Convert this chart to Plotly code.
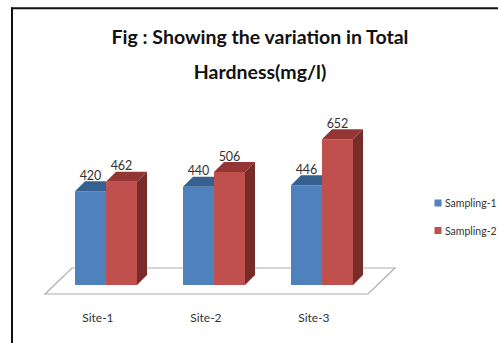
import plotly.graph_objects as go

sites = ["Site-1", "Site-2", "Site-3"]
sampling1 = [420, 440, 446]
sampling2 = [462, 506, 652]
title_lines = ["Fig : Showing the variation in Total", "Hardness(mg/l)"]

W, H = 498, 343
FONT = "Lato"
BLUE, BLUE_TOP = "#4f81bd", "#35608f"
RED, RED_TOP, RED_SIDE = "#c0504d", "#943634", "#772c2a"
PX_X = 108.0            # pixels per category
PX_Y = 0.2235           # pixels per value unit
X0 = 106.0              # pixel of first category centre
Y0 = 285.0              # pixel of value zero
AXIS_BOTTOM = 305.0
BW = 31 / PX_X          # bar width
DX, DY = 10 / PX_X, 10 / PX_Y  # depth of the 3D extrusion

fig = go.Figure()
xs = list(range(len(sites)))


def face(px, py, color):
    fig.add_trace(go.Scatter(x=px + px[:1], y=py + py[:1], mode="lines", fill="toself",
                             fillcolor=color, line=dict(width=0), hoverinfo="skip",
                             showlegend=False))


fig.add_trace(go.Bar(x=xs, y=sampling1, name="Sampling-1", marker_color=BLUE,
                     width=BW, offset=-BW, marker_line_width=0, showlegend=False))
fig.add_trace(go.Bar(x=xs, y=sampling2, name="Sampling-2", marker_color=RED,
                     width=BW, offset=0, marker_line_width=0, showlegend=False))

for i, (a, b) in enumerate(zip(sampling1, sampling2)):
    # blue top face, clipped where the red bar stands in front
    face([i - BW, i, i, i - BW + DX], [a, a, a + DY, a + DY], BLUE_TOP)
    # red top and side faces
    face([i, i + BW, i + BW + DX, i + DX], [b, b, b + DY, b + DY], RED_TOP)
    face([i + BW, i + BW + DX, i + BW + DX, i + BW], [0, DY, b + DY, b], RED_SIDE)

LABEL_LIFT = 14.5 / PX_Y
fig.add_trace(go.Scatter(
    x=[i - BW / 2 for i in xs] + [i + BW / 2 for i in xs],
    y=[v + LABEL_LIFT for v in sampling1 + sampling2],
    text=[str(v) for v in sampling1 + sampling2],
    mode="text", textposition="middle center",
    textfont=dict(family=FONT, size=12.5, color="#333333"),
    hoverinfo="skip", showlegend=False))


def px(x):
    return x / W


def py(y):
    # paper y spans the plot area only, which ends at AXIS_BOTTOM
    return 1 - y / AXIS_BOTTOM


shapes = [
    # floor of the chart
    dict(type="path", xref="paper", yref="paper", layer="below",
         path=f"M{px(45)},{py(294)} L{px(368)},{py(294)} L{px(395)},{py(268)} L{px(72)},{py(268)} Z",
         line=dict(color="#aeaeae", width=1.2), fillcolor="white"),
    # legend swatches
    dict(type="rect", xref="paper", yref="paper", x0=px(434.5), x1=px(441.5), y0=py(199.5), y1=py(206.5),
         fillcolor=BLUE, line=dict(width=0)),
    dict(type="rect", xref="paper", yref="paper", x0=px(434.5), x1=px(441.5), y0=py(227), y1=py(234),
         fillcolor=RED, line=dict(width=0)),
    # image frame
    dict(type="line", xref="paper", yref="paper", x0=px(12), x1=px(12), y0=py(H), y1=py(7.5),
         line=dict(color="#111111", width=2)),
    dict(type="line", xref="paper", yref="paper", x0=px(11), x1=1, y0=py(8.3), y1=py(8.3),
         line=dict(color="#111111", width=2)),
]

annotations = [
    dict(text=name, xref="paper", yref="paper", x=px(444), y=py(yy), xanchor="left", yanchor="middle",
         xshift=-1, showarrow=False, font=dict(family=FONT, size=10.5, color="#333333"))
    for name, yy in (("Sampling-1", 203), ("Sampling-2", 231))
]

# The outer font size sets the line spacing, the spans set the glyph size.
title_text = "<br>".join(f'<span style="font-size:19.5px">{t}</span>' for t in title_lines)

fig.update_layout(
    width=W, height=H, autosize=False,
    margin=dict(l=0, r=0, t=0, b=H - AXIS_BOTTOM),
    paper_bgcolor="white", plot_bgcolor="rgba(0,0,0,0)",
    barmode="overlay", showlegend=False,
    title=dict(text=title_text, x=260 / W, xanchor="center", y=1 - 44 / H, yanchor="top",
               font=dict(family=FONT, size=27, color="#111111", weight="bold")),
    xaxis=dict(range=[-X0 / PX_X, (W - X0) / PX_X], tickmode="array",
               tickvals=[i - 0.075 for i in xs], ticktext=sites, showgrid=False, zeroline=False,
               showline=False, ticks="", ticklabelstandoff=4,
               tickfont=dict(family=FONT, size=12, color="#333333")),
    yaxis=dict(range=[-(AXIS_BOTTOM - Y0) / PX_Y, Y0 / PX_Y], visible=False),
    shapes=shapes, annotations=annotations,
)

fig.write_html("out.html", post_script="document.body.style.margin='0';",
               config=dict(displayModeBar=False))
